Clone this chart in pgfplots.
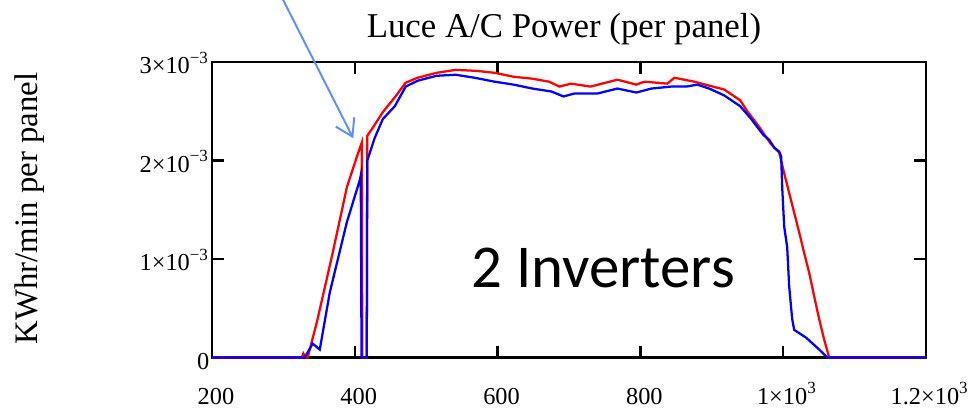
\documentclass[border=0pt]{standalone}
\usepackage{fontspec}
\setmainfont{Liberation Serif}
\newfontfamily\calibri{Carlito}
\usepackage{pgfplots}
\pgfplotsset{compat=1.18}
\usetikzlibrary{arrows.meta}
\definecolor{arrowblue}{RGB}{95,145,250}

\begin{document}
\begin{tikzpicture}
\begin{axis}[name=ax,
    width=252.3pt, height=104.4pt, scale only axis,
    xmin=200, xmax=1200, ymin=0, ymax=3e-3,
    clip=false,
    axis line style={line width=0.9pt},
    every tick/.style={black, line width=0.8pt},
    major tick length=4.2pt,
    tick align=inside,
    xtick pos=both, ytick pos=both,
    xticklabel pos=lower, yticklabel pos=left,
    xtick={200,400,600,800,1000,1200},
    xticklabels={200,400,600,800,1×10\textsuperscript{3},1.2×10\textsuperscript{3}},
    ytick={0,1e-3,2e-3,3e-3},
    yticklabels={0,1×10\textsuperscript{−3},2×10\textsuperscript{−3},3×10\textsuperscript{−3}},
    scaled ticks=false,
    tick label style={font=\fontsize{8.6}{10}\selectfont},
    xticklabel style={anchor=base, yshift=-16.6pt, xshift=1.4pt},
    yticklabel style={anchor=base east, inner xsep=0pt, xshift=-0.7pt, yshift=-4.2pt},
    title={Luce A/C Power (per panel)},
    title style={at={(0.493,1)}, anchor=base, yshift=2.8pt, font=\fontsize{12.3}{14}\selectfont},
    ylabel={KWhr/min per panel},
    ylabel style={at={(axis description cs:-0.2437,0.504)}, anchor=base, font=\fontsize{11.6}{14}\selectfont},
]
% red series
\addplot[red, line width=0.8pt, sharp plot] coordinates {
(200,0)(326,0)(328,0.04e-3)(331,0)(334,0)(347,0.36e-3)(369,1.06e-3)(389,1.73e-3)
(403,2.04e-3)(409.8,2.18e-3)(410.5,0)(416.8,0)(417.5,2.25e-3)(425.9,2.34e-3)
(439.2,2.49e-3)(456,2.64e-3)(471.3,2.79e-3)(488.1,2.84e-3)(514.7,2.89e-3)
(541.3,2.92e-3)(570,2.91e-3)(595.8,2.89e-3)(622.4,2.85e-3)(649,2.83e-3)
(672,2.80e-3)(686.7,2.75e-3)(702.8,2.78e-3)(730.1,2.75e-3)(767.8,2.82e-3)
(794.4,2.77e-3)(805.6,2.80e-3)(837.8,2.78e-3)(847.5,2.84e-3)(875.5,2.80e-3)
(890.9,2.77e-3)(917.5,2.72e-3)(939.9,2.61e-3)(949.7,2.50e-3)(966.4,2.34e-3)
(982.5,2.17e-3)(994.4,2.08e-3)(1001.4,1.87e-3)(1008.4,1.67e-3)(1015.4,1.47e-3)
(1022.4,1.27e-3)(1029.4,1.06e-3)(1036.4,0.86e-3)(1043.4,0.62e-3)(1050.4,0.39e-3)
(1057.4,0.18e-3)(1064.4,0)(1200,0)
};
% blue series
\addplot[blue, line width=0.8pt, sharp plot] coordinates {
(200,0)(330,0)(341,0.14e-3)(351,0.08e-3)(365,0.66e-3)(388.8,1.37e-3)(407,1.80e-3)
(408.4,1.85e-3)(409.5,0)(416.8,0)(417.5,2.00e-3)(428,2.23e-3)(439.2,2.42e-3)
(456,2.55e-3)(471.3,2.75e-3)(488.1,2.81e-3)(514.7,2.86e-3)(541.3,2.87e-3)
(567.8,2.84e-3)(595.8,2.80e-3)(622.4,2.77e-3)(649,2.73e-3)(675.5,2.70e-3)
(692.3,2.65e-3)(707.7,2.68e-3)(739.9,2.68e-3)(767.8,2.73e-3)(794.4,2.69e-3)
(815.4,2.73e-3)(842.7,2.75e-3)(864.3,2.75e-3)(879.7,2.77e-3)(896.5,2.73e-3)
(917.5,2.66e-3)(939.9,2.55e-3)(955.3,2.42e-3)(972.1,2.26e-3)(980.4,2.21e-3)
(987.4,2.13e-3)(994.4,2.09e-3)(997.2,2.04e-3)(998.6,1.73e-3)(1001.4,1.33e-3)
(1005.6,1.12e-3)(1008.4,0.72e-3)(1012.6,0.39e-3)(1015.4,0.28e-3)(1032.2,0.20e-3)
(1050.4,0.08e-3)(1061.6,0)(1200,0)
};
\node[anchor=base west, inner sep=0pt, font=\calibri\fontsize{21.5}{24}\selectfont]
    at (axis cs:562.8,0.706e-3) {2 Inverters};
\draw[arrowblue, line width=0.7pt, -{Straight Barb[length=5.8pt,width=7.3pt]}]
    (axis cs:292.6,3.731e-3) -- (axis cs:397.9,2.225e-3);
\end{axis}
\pgfresetboundingbox
\path[use as bounding box] ([shift={(-74.9pt,-17.8pt)}]ax.south west)
    rectangle ([shift={(15.2pt,21.9pt)}]ax.north east);
\end{tikzpicture}
\end{document}
